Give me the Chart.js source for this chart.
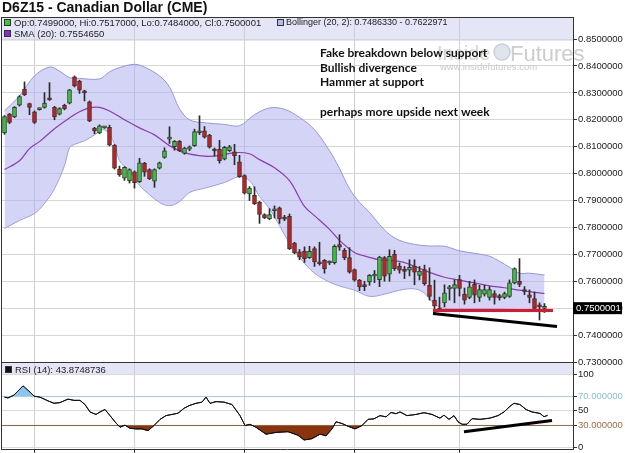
<!DOCTYPE html>
<html><head><meta charset="utf-8">
<script src="https://cdn.jsdelivr.net/npm/chart.js@4.4.1/dist/chart.umd.min.js"></script>
<style>html,body{margin:0;padding:0;background:#fff;overflow:hidden}canvas{display:block}</style>
</head><body>
<canvas id="c" width="625" height="453"></canvas>
<script>
// ---------- DATA ----------
const chartTitle = 'D6Z15 - Canadian Dollar (CME)';
const openP = [0.8151,0.8221,0.8211,0.8254,0.8314,0.8260,0.8230,0.8238,0.8246,0.8280,
0.8246,0.8221,0.8254,0.8262,0.8360,0.8344,0.8302,0.8267,0.8169,0.8151,
0.8170,0.8172,0.8106,0.8017,0.7983,0.7974,0.8007,0.7970,0.8038,0.8015,
0.7972,0.8020,0.8060,0.8128,0.8100,0.8120,0.8075,0.8091,0.8104,0.8152,
0.8159,0.8143,0.8086,0.8091,0.8054,0.8085,0.8081,0.8044,0.7993,0.7925,
0.7919,0.7894,0.7848,0.7832,0.7862,0.7873,0.7833,0.7841,0.7742,0.7709,
0.7712,0.7688,0.7721,0.7667,0.7678,0.7668,0.7669,0.7736,0.7715,0.7688,
0.7643,0.7604,0.7582,0.7598,0.7619,0.7606,0.7688,0.7626,0.7700,0.7656,
0.7639,0.7641,0.7656,0.7622,0.7643,0.7585,0.7530,0.7499,0.7520,0.7572,
0.7573,0.7606,0.7552,0.7540,0.7589,0.7540,0.7552,0.7540,0.7554,0.7541,
0.7540,0.7544,0.7594,0.7600,0.7564,0.7550,0.7536,0.7510,0.7499];
const highP = [0.8216,0.8224,0.8249,0.8290,0.8341,0.8262,0.8233,0.8243,0.8301,0.8338,
0.8250,0.8245,0.8258,0.8313,0.8363,0.8347,0.8310,0.8270,0.8172,0.8181,
0.8175,0.8180,0.8108,0.8028,0.8026,0.8018,0.8010,0.8057,0.8042,0.8018,
0.8018,0.8043,0.8096,0.8174,0.8123,0.8123,0.8098,0.8103,0.8165,0.8215,
0.8175,0.8146,0.8095,0.8124,0.8101,0.8105,0.8109,0.8068,0.7996,0.7952,
0.7951,0.7897,0.7851,0.7870,0.7880,0.7876,0.7845,0.7850,0.7745,0.7718,
0.7728,0.7730,0.7728,0.7745,0.7681,0.7676,0.7735,0.7773,0.7722,0.7725,
0.7646,0.7607,0.7600,0.7625,0.7640,0.7693,0.7692,0.7717,0.7715,0.7668,
0.7655,0.7680,0.7680,0.7655,0.7660,0.7650,0.7604,0.7541,0.7587,0.7585,
0.7605,0.7622,0.7575,0.7600,0.7605,0.7585,0.7585,0.7580,0.7565,0.7552,
0.7560,0.7605,0.7650,0.7684,0.7580,0.7568,0.7560,0.7520,0.7517];
const lowP = [0.8146,0.8186,0.8208,0.8251,0.8290,0.8219,0.8186,0.8236,0.8243,0.8272,
0.8200,0.8218,0.8237,0.8259,0.8322,0.8298,0.8270,0.8193,0.8148,0.8148,
0.8168,0.8103,0.8017,0.7990,0.7975,0.7965,0.7946,0.7967,0.7990,0.7978,
0.7949,0.8017,0.8057,0.8112,0.8087,0.8082,0.8072,0.8085,0.8101,0.8145,
0.8132,0.8095,0.8065,0.8039,0.8051,0.8082,0.8033,0.7986,0.7924,0.7900,
0.7885,0.7815,0.7833,0.7829,0.7835,0.7815,0.7825,0.7718,0.7702,0.7680,
0.7670,0.7685,0.7655,0.7660,0.7630,0.7662,0.7664,0.7715,0.7680,0.7630,
0.7600,0.7565,0.7565,0.7585,0.7595,0.7580,0.7600,0.7600,0.7640,0.7630,
0.7610,0.7620,0.7587,0.7605,0.7585,0.7530,0.7481,0.7488,0.7505,0.7530,
0.7520,0.7545,0.7515,0.7535,0.7520,0.7525,0.7545,0.7530,0.7515,0.7530,
0.7535,0.7540,0.7590,0.7580,0.7550,0.7520,0.7495,0.7456,0.7484];
const closeP = [0.8212,0.8190,0.8246,0.8286,0.8293,0.8246,0.8190,0.8241,0.8262,0.8274,
0.8211,0.8242,0.8240,0.8311,0.8326,0.8310,0.8300,0.8196,0.8159,0.8178,
0.8173,0.8106,0.8020,0.7995,0.8023,0.8015,0.7966,0.8040,0.8005,0.7981,
0.8015,0.8040,0.8085,0.8131,0.8120,0.8085,0.8095,0.8100,0.8156,0.8155,
0.8135,0.8098,0.8084,0.8048,0.8098,0.8100,0.8067,0.7989,0.7927,0.7946,
0.7888,0.7848,0.7836,0.7848,0.7864,0.7832,0.7831,0.7721,0.7705,0.7690,
0.7684,0.7711,0.7672,0.7665,0.7647,0.7672,0.7730,0.7727,0.7688,0.7634,
0.7604,0.7579,0.7580,0.7622,0.7621,0.7690,0.7619,0.7693,0.7647,0.7641,
0.7637,0.7652,0.7634,0.7638,0.7591,0.7544,0.7507,0.7493,0.7557,0.7574,
0.7588,0.7573,0.7530,0.7579,0.7548,0.7569,0.7569,0.7569,0.7540,0.7539,
0.7554,0.7594,0.7647,0.7588,0.7562,0.7540,0.7499,0.7505,0.7500001];

const bbIdx   = [0,3,6,9,11,13,15,19,21,23,26,28,31,33,35,37,40,44,47,50,53,56,59,62,65,67,69,71,73,75,77,79,82,85,88,91,94,97,99,101,103,105,108];
const bbUpper = [0.8233,0.8289,0.8363,0.8396,0.8381,0.8357,0.8354,0.8352,0.8378,0.8394,0.8406,0.8396,0.8363,0.8322,0.8241,0.8200,0.8189,0.8183,0.8178,0.8219,0.8244,0.8239,0.8209,0.8163,0.8085,0.8019,0.7944,0.7893,0.7856,0.7811,0.7774,0.7752,0.7737,0.7731,0.7730,0.7713,0.7704,0.7693,0.7674,0.7652,0.7630,0.7630,0.7622971];
const bbLowIdx = [0,3,6,8,10,12,13,14,16,18,20,22,23,25,27,29,31,33,35,37,40,44,47,49,51,53,55,57,59,62,66,70,73,76,79,82,84,86,88,92,97,102,108];
const bbLower = [0.7796,0.7826,0.7852,0.7889,0.7944,0.8030,0.8096,0.8109,0.8122,0.8144,0.8163,0.8111,0.8048,0.8011,0.7956,0.7922,0.7893,0.7881,0.7896,0.7930,0.7946,0.7967,0.7989,0.7974,0.7915,0.7870,0.7807,0.7741,0.7689,0.7630,0.7589,0.7567,0.7544,0.7552,0.7567,0.7572,0.7556,0.7515,0.7500,0.7498,0.7498,0.7496,0.7486330];
const smaIdx = [0,3,5,7,10,13,15,17,19,21,24,27,30,33,36,40,43,46,49,51,54,57,60,62,65,67,70,73,75,79,82,85,88,91,94,97,100,103,106,108];
const smaVal = [0.8015,0.8048,0.8093,0.8119,0.8167,0.8207,0.8230,0.8244,0.8246,0.8233,0.8200,0.8170,0.8144,0.8104,0.8078,0.8065,0.8067,0.8078,0.8074,0.8052,0.8022,0.7974,0.7878,0.7844,0.7793,0.7752,0.7707,0.7689,0.7680,0.7674,0.7656,0.7633,0.7615,0.7604,0.7594,0.7583,0.7576,0.7567,0.7559,0.7554650];

const rsiIdx = [0,0.7,1.9,3.7,5.1,5.9,7.1,8.7,9.9,11.1,12.7,13.9,15.1,16.1,17.1,18.3,19.1,20.1,21.1,22.3,23.1,24.1,25.1,26.3,27.5,28.7,29.9,31.1,32.3,33.5,34.7,35.9,37.1,38.3,39.5,40.3,41.1,42.3,43.9,45.5,47.1,48.1,49.1,50.3,52.3,54.3,56.7,58.7,59.9,61.5,63.1,64.3,65.5,66.3,67.5,68.7,70.1,71.5,72.7,73.9,75.1,76.3,77.3,78.3,79.1,80.5,82.3,83.9,85.5,87.1,87.9,88.9,89.9,90.7,91.5,92.5,93.5,95.1,97.1,98.7,99.9,101.1,101.9,103.1,104.3,105.5,107.1,107.9,108.6];
const rsiVal = [68.7,67.6,71.5,84,75.5,70,68.7,63.6,60.3,61.3,66,64.3,64.3,58.6,48.5,45.1,48.5,51.9,43.5,33.4,27.7,30.5,26.2,25.4,25.4,23,30,38.4,43.5,45.1,46.8,53.5,57.6,60.3,61.9,68.7,60.3,62.6,61.9,58.6,43.5,30,31.7,27.6,18.2,20.6,21.6,16.8,10.3,12.1,18.2,16,25.4,35.1,32.7,29,25.4,30,38.4,39.1,43.5,41.8,47.8,46.1,48.5,43.5,45.1,47.5,45.1,40.1,44.1,38.4,43.5,35.1,31.7,31.7,39.4,38.4,40.1,43.5,48.5,56.2,60.3,58.6,51.9,48.5,46.5,42,43.8748736];

const supportIdx = [85.7, 109.7];
const supportVal = [0.7491, 0.7491];
const trendIdx = [85.7, 110.5];
const trendVal = [0.7480, 0.7432];
const rsiTrendIdx = [91.9, 109.5];
const rsiTrendVal = [21.5, 37];

const priceTicks = [0.73,0.74,0.75,0.76,0.77,0.78,0.79,0.80,0.81,0.82,0.83,0.84,0.85];
const rsiTicks = [0,30,50,70,100];
const rsiTickLabels = ['0','30.000000','50','70.000000','100'];
const monthStartIdx = [6,26,48,70,91];
const noteLines = ['Fake breakdown below support','Bullish divergence','Hammer at support','','perhaps more upside next week'];

// ---------- BUILD ----------
const n = openP.length;
const idx = openP.map((_, i) => i);
const wickData = idx.map(i => ({x: i, y: [lowP[i], highP[i]]}));
const bodyData = idx.map(i => ({x: i, y: [Math.min(openP[i], closeP[i]), Math.max(openP[i], closeP[i])]}));
const bodyColors = idx.map(i => closeP[i] >= openP[i] ? '#35c935' : '#c81e1e');
const pts = (xs, ys) => xs.map((x, k) => ({x, y: ys[k]}));

const FONT = '"Liberation Sans", Arial, sans-serif';

const chrome = {
  id: 'chrome',
  beforeDraw(chart) {
    const c = chart.ctx, a = chart.chartArea;
    const py = chart.scales.y, ry = chart.scales.yr;
    c.save();
    c.fillStyle = '#fff'; c.fillRect(0, 0, chart.width, chart.height);
    c.fillStyle = '#e5e5f8';
    c.fillRect(a.left, py.top, a.right - a.left, 24);
    c.fillRect(a.left, ry.top, a.right - a.left, 12);
    c.restore();
  },
  beforeDatasetsDraw(chart) {
    const c = chart.ctx;
    c.save();
    c.textBaseline = 'alphabetic';
    c.fillStyle = '#d4d4d4';
    c.font = '20px ' + FONT;
    c.fillText('Inside', 437, 60);
    c.beginPath(); c.arc(502, 52, 8, 0, Math.PI * 2);
    c.fillStyle = '#dfe5ec'; c.fill();
    c.strokeStyle = '#c8d0da'; c.lineWidth = 1.5; c.stroke();
    c.fillStyle = '#cdcdcd';
    c.font = '22px ' + FONT;
    c.fillText('Futures', 510, 61);
    c.font = '9.5px ' + FONT;
    c.fillStyle = '#cacaca';
    c.fillText('www.insidefutures.com', 440, 70);
    c.restore();
  },
  afterDraw(chart) {
    const c = chart.ctx, a = chart.chartArea;
    const py = chart.scales.y, ry = chart.scales.yr;
    c.save();
    // borders
    c.strokeStyle = '#333'; c.lineWidth = 1;
    c.beginPath();
    c.moveTo(a.left + 0.5, a.top); c.lineTo(a.left + 0.5, a.bottom);
    c.moveTo(a.left, a.top + 0.5); c.lineTo(a.right, a.top + 0.5);
    c.moveTo(a.left, ry.top + 0.5); c.lineTo(a.right, ry.top + 0.5);
    c.stroke();
    // title
    c.fillStyle = '#111';
    c.textBaseline = 'middle';
    c.font = 'bold 14px ' + FONT;
    c.fillText(chartTitle, 2, 8);
    // legend rows
    const sq = (x, y, fill) => { c.fillStyle = fill; c.fillRect(x, y, 7, 7); c.strokeStyle = '#333'; c.strokeRect(x + 0.5, y + 0.5, 6, 6); };
    const L = n - 1;
    sq(4, 19, '#35c935');
    c.fillStyle = '#222';
    c.font = '9.5px ' + FONT;
    c.fillText('Op:' + openP[L].toFixed(7) + ', Hi:' + highP[L].toFixed(7) + ', Lo:' + lowP[L].toFixed(7) + ', Cl:' + closeP[L].toFixed(7), 14, 23);
    sq(277, 19, '#b8b8ee');
    c.fillStyle = '#222';
    c.font = '9px ' + FONT;
    c.fillText('Bollinger (20, 2): ' + bbLower[bbLower.length - 1].toFixed(7) + ' - ' + bbUpper[bbUpper.length - 1].toFixed(7), 286, 23);
    sq(4, 30, '#8a2ec8');
    c.fillStyle = '#222';
    c.font = '9.5px ' + FONT;
    c.fillText('SMA (20): ' + smaVal[smaVal.length - 1].toFixed(7), 14, 34);
    sq(5, ry.top + 4, '#111');
    c.fillStyle = '#222';
    c.fillText('RSI (14): ' + rsiVal[rsiVal.length - 1].toFixed(7), 15, ry.top + 8);
    // notes
    c.font = 'bold 12px Lato, ' + FONT;
    c.fillStyle = '#111';
    noteLines.forEach((t, k) => { if (t) c.fillText(t, 320, 53 + k * 14.7); });
    // last price box
    const yl = py.getPixelForValue(closeP[L]);
    c.fillStyle = '#000';
    c.fillRect(a.right, yl - 6, 49, 12);
    c.fillStyle = '#fff';
    c.font = '9.5px ' + FONT;
    c.fillText(closeP[L].toFixed(7), a.right + 3, yl);
    c.restore();
  }
};

const noPad = s => { s.width = 52; s.paddingTop = 0; s.paddingBottom = 0; };

new Chart(document.getElementById('c'), {
  data: {
    datasets: [
      {type: 'line', data: pts(bbIdx, bbUpper), yAxisID: 'y', borderColor: 'rgb(150,150,222)', borderWidth: 1, pointRadius: 0, tension: 0.35, fill: '+1', backgroundColor: 'rgba(176,176,240,0.55)', order: 10},
      {type: 'line', data: pts(bbLowIdx, bbLower), yAxisID: 'y', borderColor: 'rgb(150,150,222)', borderWidth: 1, pointRadius: 0, tension: 0.35, fill: false, order: 10},
      {type: 'line', data: pts(smaIdx, smaVal), yAxisID: 'y', borderColor: 'rgb(140,60,175)', borderWidth: 1.2, pointRadius: 0, tension: 0.35, fill: false, order: 6},
      {type: 'bar', data: wickData, yAxisID: 'y', barThickness: 1, backgroundColor: '#2a2a2a', grouped: false, order: 3},
      {type: 'bar', data: bodyData, yAxisID: 'y', barThickness: 4, backgroundColor: bodyColors, borderColor: '#333', borderWidth: 1, borderSkipped: false, minBarLength: 2, grouped: false, order: 2},
      {type: 'line', data: pts(supportIdx, supportVal), yAxisID: 'y', borderColor: '#e0162b', borderWidth: 3, pointRadius: 0, fill: false, order: 1},
      {type: 'line', data: pts(trendIdx, trendVal), yAxisID: 'y', borderColor: '#000', borderWidth: 3, pointRadius: 0, fill: false, order: 1},
      {type: 'line', data: pts(rsiIdx, rsiVal), yAxisID: 'yr', borderColor: '#111', borderWidth: 1, pointRadius: 0, fill: {target: {value: 70}, above: 'rgb(140,198,238)', below: 'rgba(0,0,0,0)'}, order: 1},
      {type: 'line', data: pts(rsiIdx, rsiVal), yAxisID: 'yr', borderColor: '#111', borderWidth: 1, pointRadius: 0, fill: {target: {value: 30}, above: 'rgba(0,0,0,0)', below: 'rgb(138,52,14)'}, order: 1},
      {type: 'line', data: pts(rsiTrendIdx, rsiTrendVal), yAxisID: 'yr', borderColor: '#000', borderWidth: 3, pointRadius: 0, fill: false, order: 0}
    ]
  },
  options: {
    responsive: false, animation: false, devicePixelRatio: 1,
    layout: {padding: {left: 1, top: 17, right: 0, bottom: 0}},
    plugins: {legend: {display: false}, tooltip: {enabled: false}, title: {display: false}},
    scales: {
      x: {type: 'linear', min: -0.7, max: 113.7, offset: false,
        afterBuildTicks: s => { s.ticks = monthStartIdx.map(v => ({value: v})); },
        afterFit: s => { s.height = 4; s.paddingLeft = 0; s.paddingRight = 0; },
        ticks: {display: false},
        grid: {offset: false, color: '#cfcfcf', drawTicks: true, tickLength: 4, tickColor: '#333'},
        border: {display: true, color: '#333'}},
      y: {type: 'linear', position: 'right', stack: 'v', stackWeight: 345, min: 0.73, max: 0.8582,
        afterBuildTicks: s => { s.ticks = priceTicks.map(v => ({value: v})); },
        afterFit: noPad,
        ticks: {autoSkip: false, padding: 1, color: '#222', font: {family: FONT, size: 9.5}, callback: v => v.toFixed(7)},
        grid: {color: '#d6d6d6', tickLength: 4, tickColor: '#333'},
        border: {color: '#333'}},
      yr: {type: 'linear', position: 'right', stack: 'v', stackWeight: 87, min: -2, max: 116.6,
        afterBuildTicks: s => { s.ticks = rsiTicks.map(v => ({value: v})); },
        afterFit: noPad,
        ticks: {autoSkip: false, padding: 1, font: {family: FONT, size: 9.5},
          color: ctx => ctx.tick.value === 70 ? '#86bfd6' : ctx.tick.value === 30 ? '#a86a3e' : '#222',
          callback: (v) => rsiTickLabels[rsiTicks.indexOf(v)]},
        grid: {color: ctx => ctx.tick.value === 70 ? '#a5d3e3' : ctx.tick.value === 30 ? '#b06a40' : '#dadada', tickLength: 4, tickColor: '#333'},
        border: {color: '#333'}}
    }
  },
  plugins: [chrome]
});
</script>
</body></html>
